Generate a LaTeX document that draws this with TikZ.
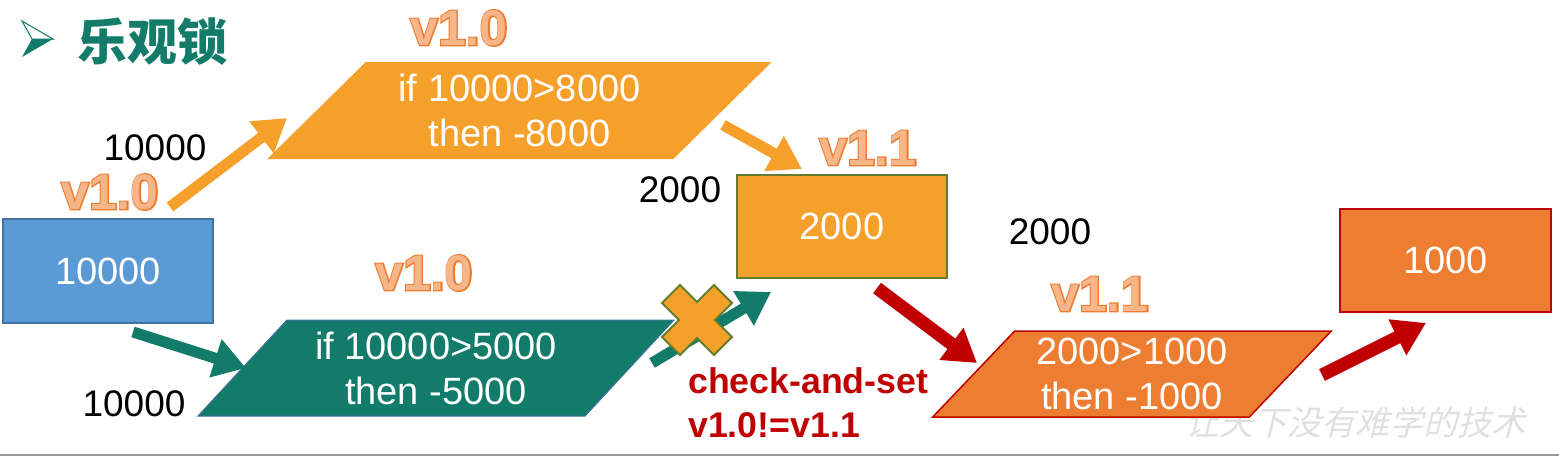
\documentclass[tikz,border=0pt]{standalone}
\usepackage{fontspec}
\setmainfont{Liberation Sans}
\newfontfamily\cjk{Noto Sans CJK SC}
\newfontfamily\cjkslant{Noto Sans CJK SC}[FakeSlant=0.25]
\newfontfamily\vrim{Liberation Sans Bold}[FakeBold=5]
\usetikzlibrary{shapes.geometric,arrows.meta}
\definecolor{boxblue}{HTML}{5B9BD5}
\definecolor{blueline}{HTML}{41719C}
\definecolor{amber}{HTML}{F6A02C}
\definecolor{olive}{HTML}{627D2E}
\definecolor{casgreen}{HTML}{137B69}
\definecolor{rust}{HTML}{ED7D31}
\definecolor{darkred}{HTML}{C00000}
\definecolor{vlight}{HTML}{F6B68A}

\begin{document}
\begin{tikzpicture}[x=1pt,y=-1pt,>={Triangle[length=32pt,width=38pt]},
  box/.style={draw,line width=1.5pt,minimum width=210pt,minimum height=103pt,inner sep=0pt,text=white,font=\fontsize{38}{45}\selectfont},
  para/.style={trapezium,trapezium stretches=true,inner sep=0pt,text=white,align=center,font=\fontsize{38}{45}\selectfont},
  num/.style={font=\fontsize{37}{37}\selectfont},
  vrimtext/.style={font=\vrim\fontsize{50}{50}\selectfont,text=rust},
  ver/.style={font=\bfseries\fontsize{50}{50}\selectfont,text=vlight},
  fat/.style={line width=11pt}]
\useasboundingbox (0,0) rectangle (1559,456);
\node[font=\cjkslant\fontsize{34}{34}\selectfont,text=black!12] (mark) at (1355,422) {让天下没有难学的技术};
\draw[gray!80,line width=2pt] (0,455) -- (1559,455);

\draw[casgreen,line width=1pt,fill=white] (22,21) -- (53,39) -- (32,39) -- cycle;
\fill[casgreen] (32,39) -- (53,39) -- (22,57) -- cycle;
\node[font=\cjk\bfseries\fontsize{50}{50}\selectfont,text=casgreen,anchor=west] (title) at (74,42) {乐观锁};

\node[box,fill=boxblue,draw=blueline,minimum height=104pt] (acct) at (108,271) {10000};
\node[para,fill=amber,minimum width=505pt,minimum height=97pt,trapezium left angle=43.3,trapezium right angle=136.7] (chk1) at (519.5,110.5) {if 10000>8000\\then -8000};
\node[para,fill=casgreen,draw=blueline,line width=1pt,minimum width=478pt,minimum height=96pt,trapezium left angle=45.3,trapezium right angle=134.7] (chk2) at (436,368) {if 10000>5000\\then -5000};
\node[box,fill=amber,draw=olive] (mid) at (842,226.5) {2000};
\node[para,fill=rust,draw=darkred,line width=1.5pt,minimum width=400pt,minimum height=86pt,trapezium left angle=47.1,trapezium right angle=132.9] (chk3) at (1132,374) {2000>1000\\then -1000};
\node[box,fill=rust,draw=darkred,minimum width=211pt] (last) at (1445.5,260.5) {1000};

\coordinate (a1) at (170,207);
\coordinate (b1) at (287,118);
\coordinate (a2) at (723,125);
\coordinate (b2) at (802,169);
\coordinate (a3) at (133,332);
\coordinate (b3) at (246,368);
\coordinate (a4) at (652,363);
\coordinate (b4) at (771,292);
\coordinate (a5) at (877,288);
\coordinate (b5) at (977,363);
\coordinate (a6) at (1322,375);
\coordinate (b6) at (1426,323);
\draw[->,fat,amber] (a1) -- (b1);
\draw[->,fat,amber] (a2) -- (b2);
\draw[->,fat,casgreen] (a3) -- (b3);
\draw[->,fat,casgreen] (a4) -- (b4);
\draw[->,line width=13pt,darkred] (a5) -- (b5);
\draw[->,line width=13pt,darkred] (a6) -- (b6);

\draw[fill=amber,draw=olive,line width=2pt,shift={(697,320)}] (0,18) -- (17,35) -- (35,17) -- (18,0) -- (35,-17) -- (17,-35) -- (0,-18) -- (-17,-35) -- (-35,-17) -- (-18,0) -- (-35,17) -- (-17,35) -- cycle;

\foreach \n/\pos/\txt in {v0/{(110,192)}/v1.0, v1/{(459,28)}/v1.0, v2/{(424,273)}/v1.0, v3/{(868,148)}/v1.1, v4/{(1100,294)}/v1.1}{
  \node[vrimtext] (\n r) at \pos {\txt};
  \node[ver] (\n) at \pos {\txt};
}
\node[num] (n1) at (155,148) {10000};
\node[num] (n2) at (134,404) {10000};
\node[num] (n3) at (680,190) {2000};
\node[num] (n4) at (1050,232) {2000};
\node[font=\bfseries\fontsize{35.7}{44}\selectfont,text=darkred,align=left,anchor=north west,inner sep=0pt] (cas) at (688,367) {check-and-set\\v1.0!=v1.1};
\end{tikzpicture}
\end{document}
